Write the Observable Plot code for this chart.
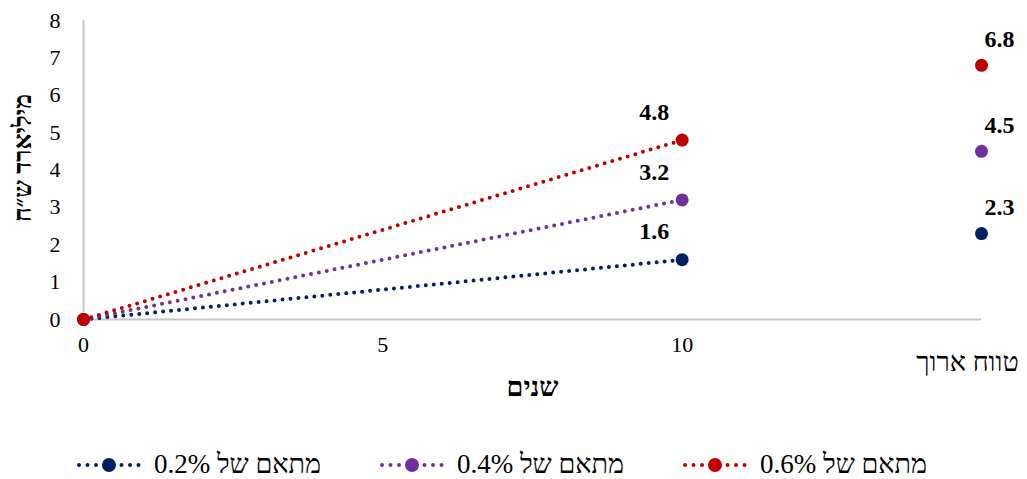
<!DOCTYPE html>
<html lang="he">
<head>
<meta charset="utf-8">
<script src="https://cdn.jsdelivr.net/npm/d3@7"></script>
<script src="https://cdn.jsdelivr.net/npm/@observablehq/plot@0.6"></script>
<style>
  html, body { margin: 0; padding: 0; background: #fff; overflow: hidden; }
  #chart svg { display: block; }
  #legend {
    height: 39px; box-sizing: border-box; padding-top: 10px; padding-right: 24px;
    display: flex; justify-content: center; align-items: center; gap: 58px;
    font-family: "Liberation Serif", "Times New Roman", serif; font-size: 27px; color: #000;
  }
  .item { display: flex; align-items: center; gap: 12px; }
  .item span { direction: rtl; unicode-bidi: embed; white-space: nowrap; }
</style>
</head>
<body>
<div id="chart"></div>
<div id="legend"></div>
<script>
// ---- data ----
const series = ["מתאם של 0.2%", "מתאם של 0.4%", "מתאם של 0.6%"];
const colors = ["#002060", "#7030a0", "#c00000"];
const startYear = 0;
const tenYears = 10;
const longTermX = 15;
const startValues = [0, 0, 0];
const tenYearValues = [1.6, 3.2, 4.8];
const longTermValues = [2.3, 4.5, 6.8];
const xTicks = [0, 5, 10];
const yTicks = [0, 1, 2, 3, 4, 5, 6, 7, 8];
const longTermLabel = "טווח ארוך";
const xTitle = "שנים";
const yTitle = "מיליארד ש״ח";

// ---- tidy tables ----
const linePts = series.flatMap((s, i) => [
  {s, x: startYear, v: startValues[i]},
  {s, x: tenYears, v: tenYearValues[i]}
]);
const tenPts = series.map((s, i) => ({s, x: tenYears, v: tenYearValues[i]}));
const longPts = series.map((s, i) => ({s, x: longTermX, v: longTermValues[i]}));
const startPts = series.map((s, i) => ({s, x: startYear, v: startValues[i]}));

const color = {domain: series, range: colors};

const chart = Plot.plot({
  width: 1027,
  height: 440,
  marginLeft: 83,
  marginRight: 46,
  marginTop: 20,
  marginBottom: 121,
  style: {fontFamily: "'Liberation Serif', 'Times New Roman', serif", fontSize: "21px", color: "#000", background: "#fff"},
  x: {domain: [0, longTermX]},
  y: {domain: [0, 8]},
  color,
  marks: [
    Plot.ruleX([0], {stroke: "#c6c6c6", strokeWidth: 2}),
    Plot.ruleY([0], {stroke: "#c6c6c6", strokeWidth: 2}),
    Plot.axisX({ticks: xTicks, tickSize: 0, tickPadding: 17, label: null, fontSize: 22}),
    Plot.axisY({ticks: yTicks, tickSize: 0, tickPadding: 23, label: null, fontSize: 22}),
    Plot.text([longTermLabel], {x: () => longTermX, y: () => 0, dy: 43, dx: -14, fontSize: 27}),
    Plot.text([xTitle], {frameAnchor: "bottom", dy: 76, fontWeight: "bold", fontSize: 27}),
    Plot.text([yTitle], {frameAnchor: "left", textAnchor: "middle", rotate: -90, dx: -61, dy: -12, fontWeight: "bold", fontSize: 25}),
    Plot.line(linePts, {x: "x", y: "v", z: "s", stroke: "s", strokeWidth: 4, strokeDasharray: "0 8", strokeLinecap: "round"}),
    Plot.dot(tenPts, {x: "x", y: "v", fill: "s", r: 6.5}),
    Plot.dot(longPts, {x: "x", y: "v", fill: "s", r: 6.5}),
    Plot.dot(startPts, {x: "x", y: "v", fill: "s", r: 6.5}),
    Plot.text(tenPts, {x: "x", y: "v", text: d => d.v.toFixed(1), dx: -28, dy: -28, fontWeight: "bold", fontSize: 24}),
    Plot.text(longPts, {x: "x", y: "v", text: d => d.v.toFixed(1), dx: 18, dy: -26, fontWeight: "bold", fontSize: 24})
  ]
});
document.getElementById("chart").appendChild(chart);

// ---- legend ----
const legend = d3.select("#legend");
series.forEach((s, i) => {
  const item = legend.append("div").attr("class", "item");
  const sw = item.append("svg").attr("width", 66).attr("height", 20);
  sw.append("line").attr("x1", 3).attr("x2", 63).attr("y1", 10).attr("y2", 10)
    .attr("stroke", colors[i]).attr("stroke-width", 4).attr("stroke-linecap", "round")
    .attr("stroke-dasharray", "0 8.5");
  sw.append("circle").attr("cx", 33).attr("cy", 10).attr("r", 7).attr("fill", colors[i]);
  item.append("span").attr("dir", "rtl").text(s);
});
</script>
</body>
</html>
